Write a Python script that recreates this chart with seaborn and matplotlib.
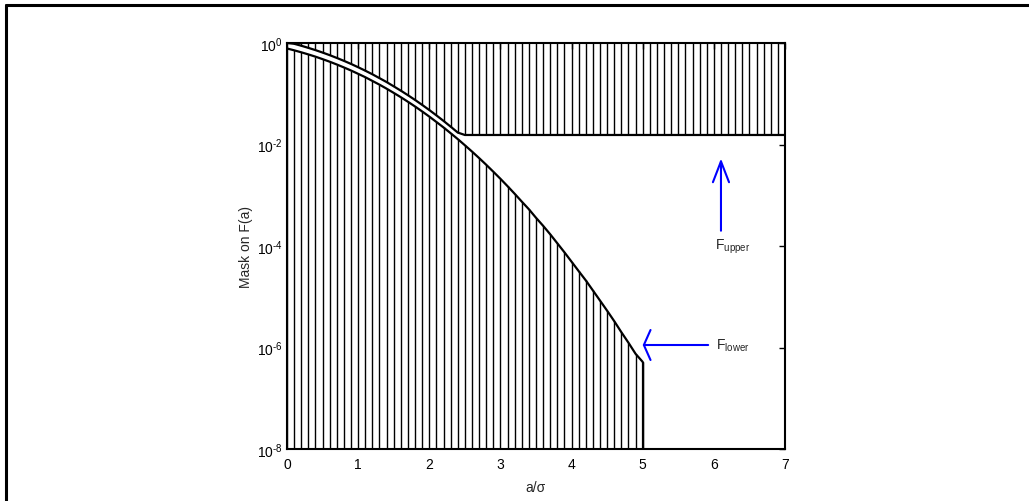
import numpy as np
import matplotlib
matplotlib.use('Agg')
import matplotlib.pyplot as plt
import seaborn as sns
from matplotlib.lines import Line2D
from matplotlib.ticker import NullLocator

sns.set_style('white')
plt.rcParams['font.family'] = ['Liberation Sans', 'DejaVu Sans']
plt.rcParams['mathtext.fontset'] = 'custom'
plt.rcParams['mathtext.rm'] = 'Liberation Sans'
plt.rcParams['mathtext.it'] = 'Liberation Sans'
plt.rcParams['mathtext.default'] = 'regular'

# a/sigma grid, step 0.1
a_lower = np.round(np.linspace(0, 5, 51), 1)
a_upper = np.round(np.linspace(0, 7, 71), 1)

# lower mask F_lower(a), a = 0.0 .. 5.0
lower_mask = [0.78, 0.718, 0.656, 0.596, 0.538, 0.481, 0.428, 0.377, 0.330, 0.287,
              0.247, 0.212, 0.179, 0.151, 0.126, 0.104, 0.0855, 0.0695, 0.0561, 0.0448,
              0.0355, 0.0278, 0.0217, 0.0167, 0.0128, 0.00967, 0.00727, 0.00541, 0.00399, 0.00291,
              0.00211, 0.00151, 0.00107, 7.5e-4, 5.3e-4, 3.6e-4, 2.5e-4, 1.7e-4, 1.13e-4, 7.5e-5,
              4.9e-5, 3.2e-5, 2.1e-5, 1.33e-5, 8.4e-6, 5.3e-6, 3.3e-6, 2.0e-6, 1.24e-6, 7.5e-7,
              5.2e-7]

# upper mask F_upper(a), a = 0.0 .. 2.4, then flat floor to a = 7
upper_curve = [1.0, 0.966, 0.884, 0.802, 0.724, 0.648, 0.576, 0.508, 0.445, 0.387,
               0.333, 0.285, 0.242, 0.203, 0.170, 0.140, 0.115, 0.0936, 0.0755, 0.0603,
               0.0478, 0.0375, 0.0292, 0.0225, 0.0172]
upper_floor = 0.0154
upper_mask = upper_curve + [upper_floor] * (len(a_upper) - len(upper_curve))

y_exponents = [0, -2, -4, -6, -8]
y_min, y_max = 1e-8, 1e0

fig = plt.figure(figsize=(10.29, 5.02), dpi=100)
ax = fig.add_axes([287 / 1029, 1 - 450 / 502, 498 / 1029, 406 / 502])

# hatching
ax.vlines(a_lower, y_min, lower_mask, color='black', lw=1.0)
ax.vlines(a_upper, upper_mask, y_max, color='black', lw=1.0)

# mask outlines
sns.lineplot(x=a_lower, y=lower_mask, ax=ax, color='black', lw=1.6, estimator=None)
sns.lineplot(x=a_upper, y=upper_mask, ax=ax, color='black', lw=1.6, estimator=None)
ax.vlines([a_lower[-1]], y_min, lower_mask[-1], color='black', lw=1.6)

ax.set_yscale('log')
ax.set_xlim(0, 7)
ax.set_ylim(y_min, y_max)
ax.set_xticks(range(8))
ax.set_yticks([10.0 ** e for e in y_exponents])
ax.set_yticklabels([r'$10^{\text{%d}}$' % e for e in y_exponents])
ax.yaxis.set_minor_locator(NullLocator())
ax.tick_params(direction='in', top=True, right=True, length=4, width=1,
               labelsize=10, colors='black')
ax.tick_params(axis='y', pad=3)
ax.tick_params(axis='x', pad=6)
for s in ax.spines.values():
    s.set_linewidth(1.5)
    s.set_color('black')

ax.set_xlabel('a/σ', fontsize=10, labelpad=6)
ax.set_ylabel('Mask on F(a)', fontsize=10, labelpad=3)

# annotations
ax.annotate('', xy=(6.1, 5.3e-3), xytext=(6.1, 2.0e-4),
            arrowprops=dict(arrowstyle='->,head_length=1.5,head_width=0.58',
                            color='blue', lw=1.5, shrinkA=0, shrinkB=0, mutation_scale=10))
ax.annotate('', xy=(5.0, 1.12e-6), xytext=(5.92, 1.12e-6),
            arrowprops=dict(arrowstyle='->,head_length=0.48,head_width=1.08',
                            color='blue', lw=1.5, shrinkA=0, shrinkB=0, mutation_scale=10))
ax.text(6.02, 8.7e-5, 'F$_{upper}$', fontsize=10, va='baseline', ha='left')
ax.text(6.03, 9.3e-7, 'F$_{lower}$', fontsize=10, va='baseline', ha='left')

# figure frame
fig.add_artist(Line2D([6 / 1029, 6 / 1029], [0, 1 - 5.5 / 502], transform=fig.transFigure,
                      color='black', lw=2.2))
fig.add_artist(Line2D([6 / 1029, 1], [1 - 5.5 / 502, 1 - 5.5 / 502], transform=fig.transFigure,
                      color='black', lw=2.2))

fig.savefig('out.png', dpi=100)
